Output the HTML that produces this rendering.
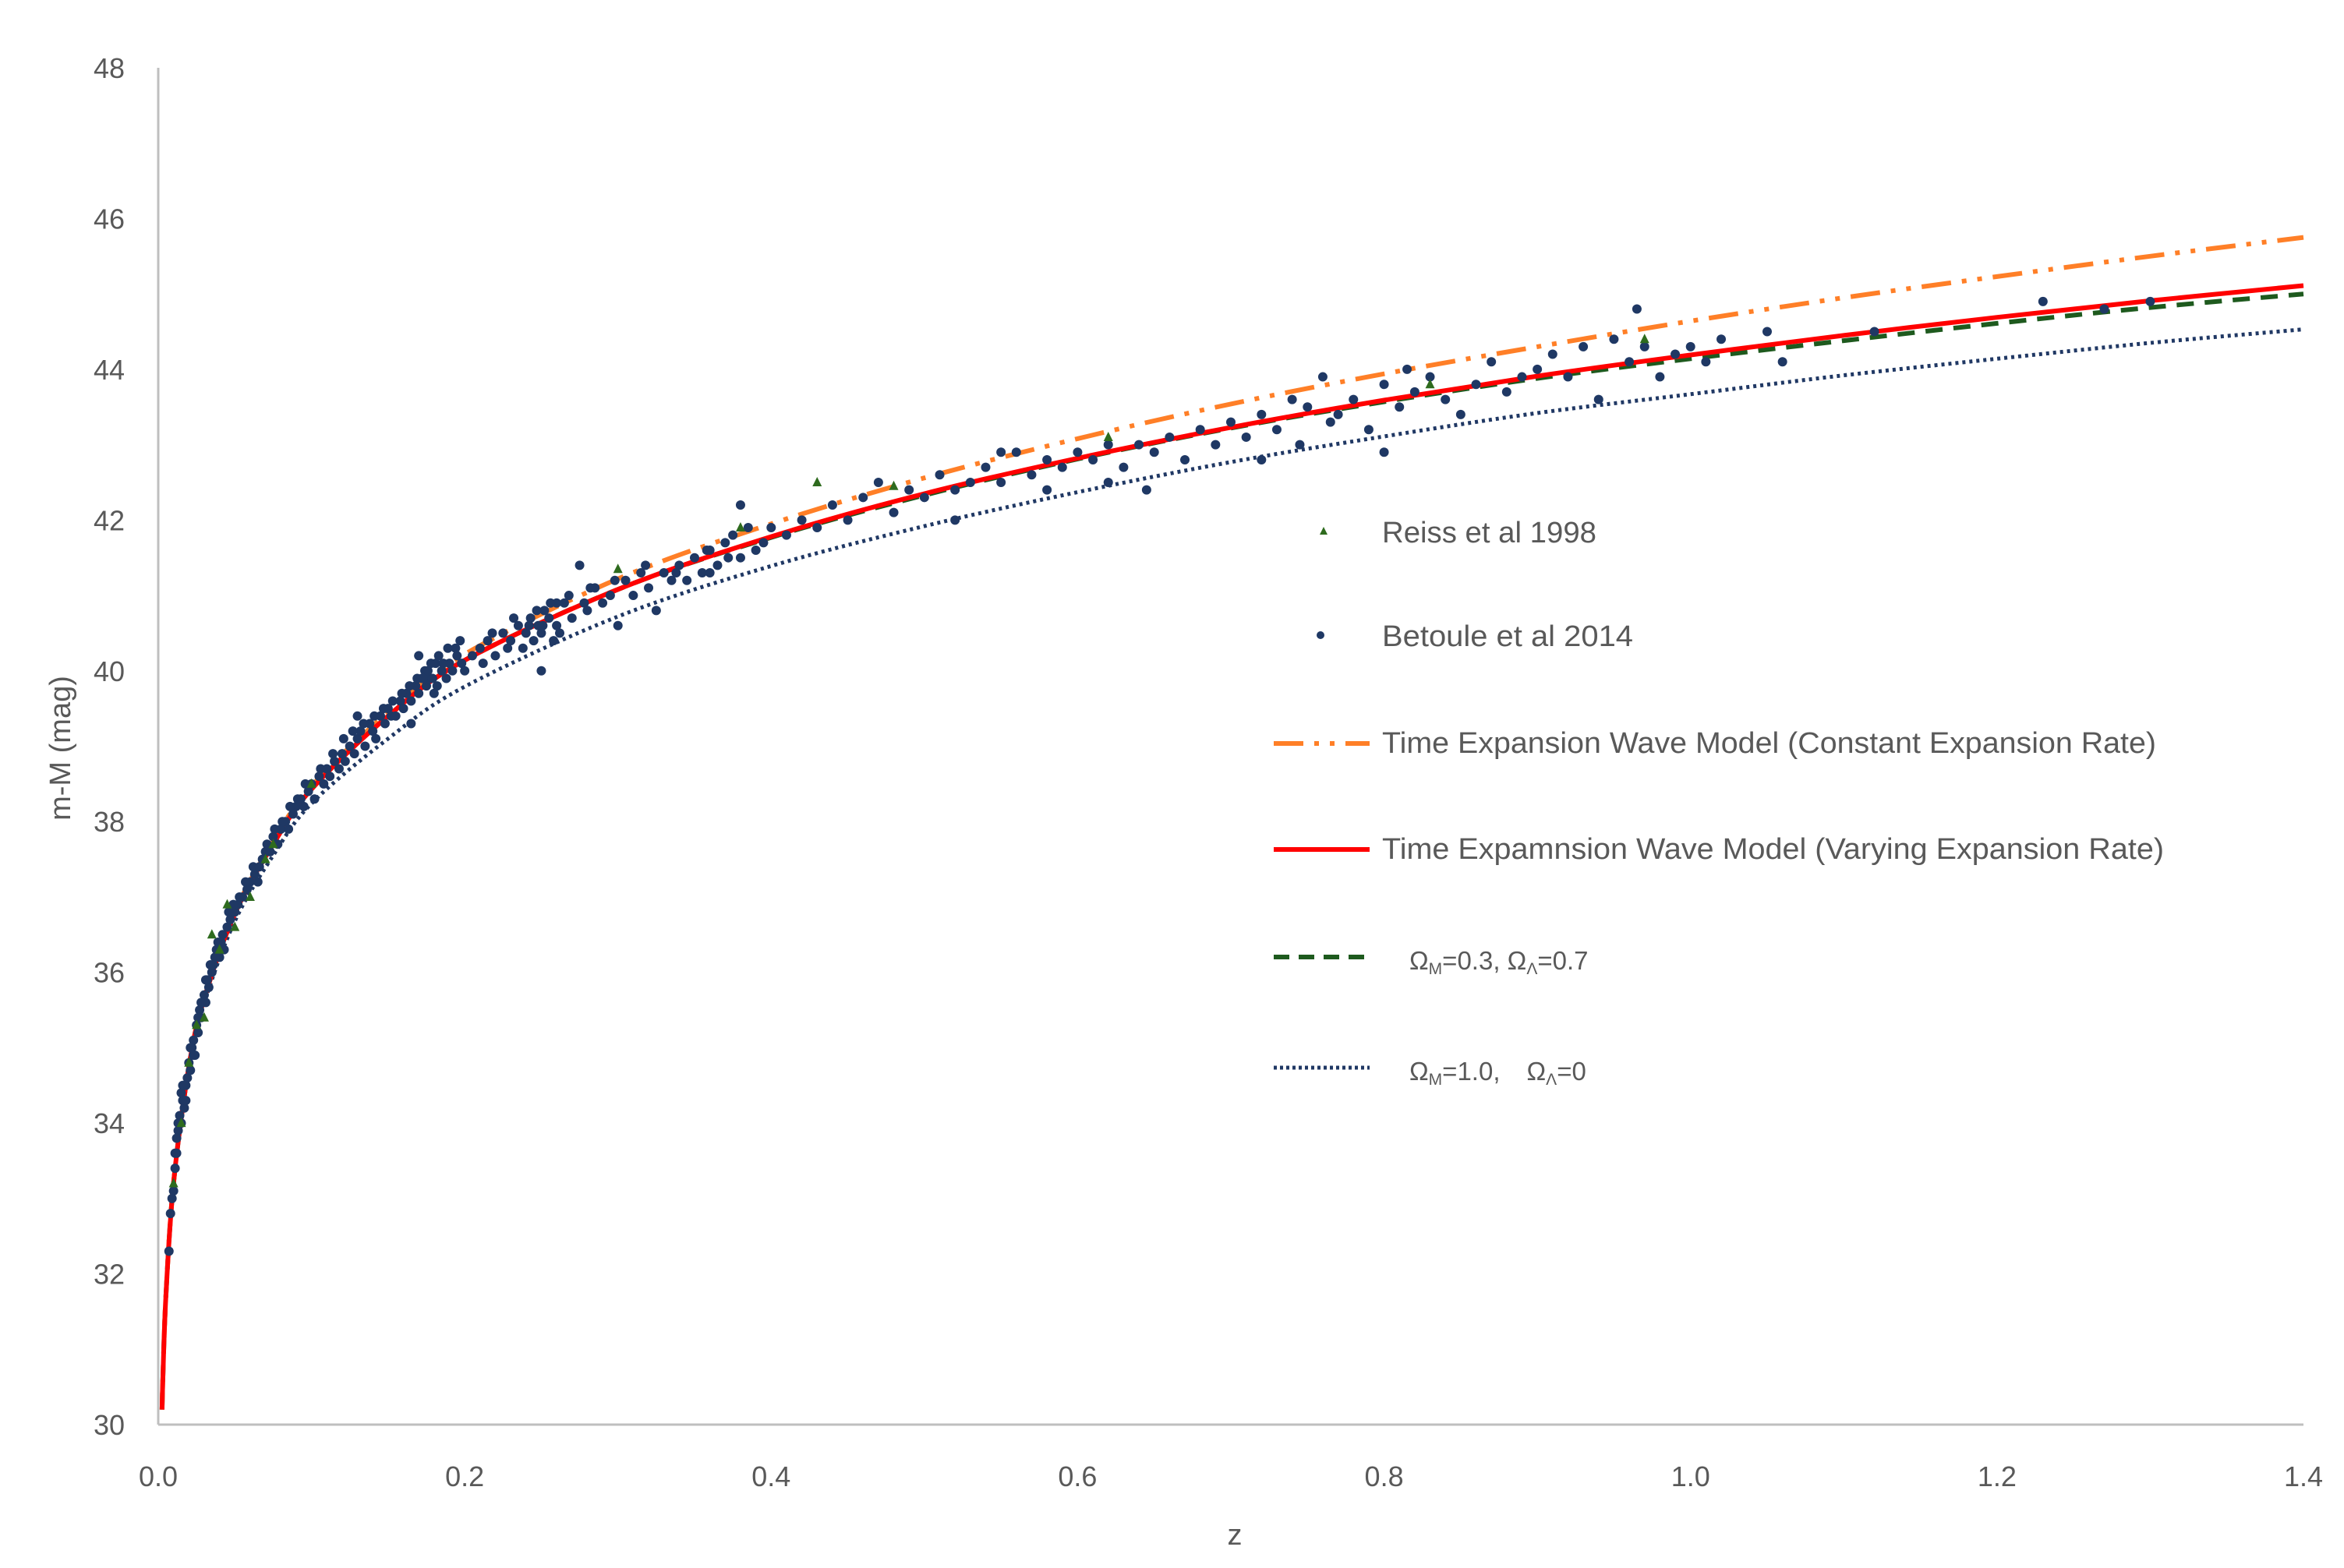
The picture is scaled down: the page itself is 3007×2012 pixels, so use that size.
<!DOCTYPE html>
<html><head><meta charset="utf-8"><style>
html,body{margin:0;padding:0;background:#fff}
svg{display:block;font-family:"Liberation Sans",sans-serif}
</style></head><body>
<svg id="chart" width="3007" height="2012" viewBox="0 0 3007 2012" xmlns="http://www.w3.org/2000/svg">
<rect width="3007" height="2012" fill="#fff"/>
<g id="axes"></g><g id="curves"></g><g id="points"></g><g id="legend"></g>
</svg>
<script>
const xTicks=[0.0,0.2,0.4,0.6,0.8,1.0,1.2,1.4];
const xTickLabels=["0.0","0.2","0.4","0.6","0.8","1.0","1.2","1.4"];
const yTicks=[30,32,34,36,38,40,42,44,46,48];
const modelZ=[0.0025,0.003,0.005,0.01,0.02,0.03,0.05,0.075,0.1,0.15,0.2,0.3,0.4,0.5,0.6,0.7,0.8,0.9,1.0,1.1,1.2,1.3,1.4];
const constRate=[30.2,30.6,31.7,33.21,34.75,35.66,36.8,37.74,38.47,39.45,40.22,41.22,41.95,42.56,43.08,43.54,43.94,44.3,44.64,44.95,45.23,45.5,45.75];
const varyRate=[30.2,30.6,31.7,33.21,34.75,35.65,36.78,37.7,38.43,39.4,40.14,41.08,41.78,42.35,42.82,43.23,43.59,43.91,44.19,44.45,44.69,44.91,45.11];
const lcdm=[30.2,30.6,31.7,33.21,34.75,35.65,36.78,37.7,38.43,39.4,40.14,41.08,41.77,42.33,42.81,43.22,43.57,43.88,44.14,44.38,44.61,44.82,45.0];
const eds=[30.2,30.6,31.7,33.2,34.71,35.59,36.68,37.55,38.24,39.1,39.79,40.72,41.39,41.92,42.37,42.77,43.11,43.42,43.67,43.92,44.14,44.35,44.53];
const betZ=[0.010,0.011,0.012,0.013,0.014,0.015,0.016,0.017,0.018,0.019,0.020,0.021,0.022,0.023,0.024,0.025,0.026,0.027,0.028,0.029,0.030,0.031,0.032,0.033,0.035,0.036,0.038,0.040,0.042,0.045,0.047,0.050,0.052,0.055,0.058,0.060,0.063,0.065,0.068,0.070,0.073,0.075,0.078,0.080,0.083,0.085,0.088,0.090,0.093,0.095,0.098,0.100,0.012,0.015,0.009,0.008,0.007,
0.011,0.013,0.016,0.018,0.021,0.023,0.026,0.028,0.031,0.034,0.037,0.039,0.041,0.043,0.046,0.049,0.053,0.057,0.062,0.066,0.071,0.076,0.081,0.086,0.091,0.096,
0.102,0.105,0.108,0.11,0.112,0.115,0.118,0.12,0.122,0.125,0.128,0.13,0.132,0.135,0.138,0.14,0.142,0.145,0.148,0.15,0.152,0.155,0.158,0.16,0.162,0.165,0.168,0.17,0.172,0.174,0.175,0.177,0.178,0.18,0.182,0.185,0.188,0.19,0.192,0.195,0.198,0.2,0.13,0.165,0.17,
0.106,0.114,0.121,0.127,0.134,0.141,0.147,0.153,0.159,0.164,0.169,0.173,0.176,0.179,0.181,0.183,0.186,0.189,0.194,0.197,
0.205,0.21,0.212,0.215,0.22,0.225,0.228,0.23,0.235,0.238,0.24,0.243,0.245,0.248,0.25,0.252,0.255,0.258,0.26,0.265,0.27,0.275,0.278,0.28,0.285,0.29,0.295,0.3,0.305,0.31,0.315,0.32,0.325,0.33,0.335,0.34,0.345,0.35,0.355,0.36,0.365,0.37,0.375,0.38,0.385,0.39,0.395,0.4,0.38,0.36,0.25,0.26,
0.218,0.232,0.242,0.247,0.251,0.256,0.262,0.268,0.282,0.298,0.318,0.338,0.358,0.372,
0.41,0.42,0.43,0.44,0.45,0.46,0.47,0.48,0.49,0.5,0.51,0.52,0.53,0.54,0.55,0.56,0.57,0.58,0.59,0.6,0.61,0.62,0.63,0.64,0.645,0.65,0.66,0.67,0.68,0.69,0.7,0.52,0.58,0.62,0.55,
0.71,0.72,0.73,0.74,0.745,0.75,0.76,0.765,0.77,0.78,0.79,0.8,0.81,0.815,0.82,0.83,0.84,0.85,0.86,0.87,0.88,0.89,0.9,0.91,0.92,0.93,0.94,0.95,0.96,0.965,0.97,0.98,0.99,1.0,1.01,1.02,0.8,0.72,
1.05,1.06,1.12,1.23,1.27,1.3];
const betMu=[33.1,33.4,33.6,33.9,34.1,34.0,34.3,34.2,34.5,34.6,34.8,34.7,35.0,35.1,34.9,35.3,35.2,35.5,35.4,35.6,35.7,35.6,35.9,35.8,36.0,36.1,36.3,36.2,36.5,36.6,36.7,36.8,36.9,37.0,37.1,37.2,37.3,37.2,37.5,37.6,37.6,37.8,37.7,37.9,38.0,37.9,38.1,38.2,38.3,38.2,38.4,38.5,33.8,34.4,33.0,32.8,32.3,
33.6,34.0,34.5,34.3,35.0,34.9,35.4,35.6,35.9,36.1,36.2,36.4,36.4,36.3,36.8,36.9,37.0,37.2,37.4,37.4,37.7,37.9,38.0,38.2,38.3,38.5,
38.3,38.6,38.5,38.7,38.6,38.8,38.7,38.9,38.8,39.0,38.9,39.1,39.2,39.0,39.3,39.2,39.1,39.4,39.3,39.5,39.4,39.4,39.6,39.5,39.7,39.6,39.8,39.7,39.9,40.0,39.8,39.9,40.1,39.7,39.8,40.0,39.9,40.1,40.0,40.2,40.1,40.0,39.4,39.3,40.2,
38.7,38.9,39.1,39.2,39.3,39.4,39.5,39.6,39.7,39.8,39.9,39.9,40.0,39.9,40.1,40.2,40.1,40.3,40.3,40.4,
40.2,40.3,40.1,40.4,40.2,40.5,40.3,40.4,40.6,40.3,40.5,40.7,40.4,40.6,40.5,40.8,40.7,40.4,40.6,40.9,40.7,41.4,40.9,40.8,41.1,40.9,41.0,40.6,41.2,41.0,41.3,41.1,40.8,41.3,41.2,41.4,41.2,41.5,41.3,41.6,41.4,41.7,41.8,41.5,41.9,41.6,41.7,41.9,42.2,41.3,40.0,40.9,
40.5,40.7,40.6,40.8,40.6,40.9,40.5,41.0,41.1,41.2,41.4,41.3,41.6,41.5,
41.8,42.0,41.9,42.2,42.0,42.3,42.5,42.1,42.4,42.3,42.6,42.4,42.5,42.7,42.5,42.9,42.6,42.8,42.7,42.9,42.8,43.0,42.7,43.0,42.4,42.9,43.1,42.8,43.2,43.0,43.3,42.0,42.4,42.5,42.9,
43.1,43.4,43.2,43.6,43.0,43.5,43.9,43.3,43.4,43.6,43.2,43.8,43.5,44.0,43.7,43.9,43.6,43.4,43.8,44.1,43.7,43.9,44.0,44.2,43.9,44.3,43.6,44.4,44.1,44.8,44.3,43.9,44.2,44.3,44.1,44.4,42.9,42.8,
44.5,44.1,44.5,44.9,44.8,44.9];
const reissZ=[0.01,0.015,0.02,0.025,0.03,0.035,0.04,0.045,0.05,0.06,0.07,0.075,0.1,0.3,0.38,0.43,0.48,0.62,0.83,0.97];
const reissMu=[33.2,34.0,34.8,35.3,35.4,36.5,36.3,36.9,36.6,37.0,37.5,37.7,38.5,41.35,41.9,42.5,42.45,43.1,43.8,44.4];

const NS='http://www.w3.org/2000/svg';
const X0=203,X1=2955,Y0=1828,Y1=87;
const sx=z=>X0+(z-0)/(1.4-0)*(X1-X0);
const sy=m=>Y0-(m-30)/(48-30)*(Y0-Y1);
function mk(tag,attrs,parent,txt){const e=document.createElementNS(NS,tag);for(const k in attrs)e.setAttribute(k,attrs[k]);if(txt!==undefined)e.textContent=txt;parent.appendChild(e);return e;}
const axes=document.getElementById('axes'),curves=document.getElementById('curves'),pts=document.getElementById('points'),leg=document.getElementById('legend');

let e=mk('line',{x1:X0,y1:Y0,x2:X1,y2:Y0,stroke:'#bfbfbf','stroke-width':3},axes);


e=mk('line',{x1:X0,y1:Y0,x2:X0,y2:Y1,stroke:'#bfbfbf','stroke-width':3},axes);


xTicks.forEach((t,i)=>{const el=mk('text',{x:sx(t),y:1907,'font-size':36,fill:'#595959','text-anchor':'middle'},axes,xTickLabels[i]);

});
yTicks.forEach(t=>{const el=mk('text',{x:160,y:sy(t)+13,'font-size':36,fill:'#595959','text-anchor':'end'},axes,String(t));

});
e=mk('text',{x:1584,y:1982,'font-size':38,fill:'#595959','text-anchor':'middle'},axes,'z');


e=mk('text',{x:0,y:0,'font-size':38,fill:'#595959','text-anchor':'middle',transform:'translate(90,960) rotate(-90)'},axes,'m-M (mag)');



const styles={
 eds:{stroke:'#203864',w:5,dash:'4 5'},
 lcdm:{stroke:'#1e5a1e',w:6,dash:'22 14'},
 vary:{stroke:'#ff0000',w:6,dash:''},
 cons:{stroke:'#ff7f27',w:6,dash:'38 14 6 14 6 14'}
};
function curve(vals,st,name){
 const P=modelZ.map((z,i)=>[sx(z),sy(vals[i])]);
 let d='M'+P[0][0].toFixed(1)+','+P[0][1].toFixed(1);
 for(let i=0;i<P.length-1;i++){
  const p0=P[Math.max(0,i-1)],p1=P[i],p2=P[i+1],p3=P[Math.min(P.length-1,i+2)];
  const c1=[p1[0]+(p2[0]-p0[0])/6,p1[1]+(p2[1]-p0[1])/6];
  const c2=[p2[0]-(p3[0]-p1[0])/6,p2[1]-(p3[1]-p1[1])/6];
  d+='C'+c1[0].toFixed(1)+','+c1[1].toFixed(1)+' '+c2[0].toFixed(1)+','+c2[1].toFixed(1)+' '+p2[0].toFixed(1)+','+p2[1].toFixed(1);
 }
 const p=mk('path',{d:d,fill:'none',stroke:st.stroke,'stroke-width':st.w,'stroke-dasharray':st.dash},curves);
 
 }
curve(eds,styles.eds,'omega-m1-curve');
curve(lcdm,styles.lcdm,'lcdm-curve');
curve(constRate,styles.cons,'constant-rate-curve');
curve(varyRate,styles.vary,'varying-rate-curve');

betZ.forEach((z,i)=>{const c=mk('circle',{cx:sx(z),cy:sy(betMu[i]),r:6,fill:'#1f3864'},pts);

});
reissZ.forEach((z,i)=>{const x=sx(z),y=sy(reissMu[i]);const t=mk('polygon',{points:`${x},${y-7} ${x-6},${y+5} ${x+6},${y+5}`,fill:'#2e6b1e'},pts);

});

const LX1=1634,LX2=1757,TX=1773;
let g=mk('polygon',{points:'1698,676 1693,686 1703,686',fill:'#2e6b1e'},leg);


g=mk('text',{x:TX,y:696,'font-size':38,fill:'#595959',textLength:275,lengthAdjust:'spacingAndGlyphs'},leg,'Reiss et al 1998');


g=mk('circle',{cx:1694,cy:815,r:5,fill:'#1f3864'},leg);


g=mk('text',{x:TX,y:829,'font-size':38,fill:'#595959',textLength:322,lengthAdjust:'spacingAndGlyphs'},leg,'Betoule et al 2014');


g=mk('line',{x1:LX1,y1:954,x2:LX2,y2:954,stroke:'#ff7f27','stroke-width':6,'stroke-dasharray':'38 14 6 14 6 14'},leg);


g=mk('text',{x:TX,y:966,'font-size':38,fill:'#595959',textLength:993,lengthAdjust:'spacingAndGlyphs'},leg,'Time Expansion Wave Model (Constant Expansion Rate)');


g=mk('line',{x1:LX1,y1:1090,x2:LX2,y2:1090,stroke:'#ff0000','stroke-width':6},leg);


g=mk('text',{x:TX,y:1102,'font-size':38,fill:'#595959',textLength:1003,lengthAdjust:'spacingAndGlyphs'},leg,'Time Expamnsion Wave Model (Varying Expansion Rate)');


g=mk('line',{x1:LX1,y1:1228,x2:LX2,y2:1228,stroke:'#1e5a1e','stroke-width':6,'stroke-dasharray':'20 12'},leg);


g=mk('text',{x:1808,y:1244,'font-size':33,fill:'#595959'},leg);
g.innerHTML='Ω<tspan font-size="21" dy="6">M</tspan><tspan dy="-6">=0.3, Ω</tspan><tspan font-size="21" dy="6">Λ</tspan><tspan dy="-6">=0.7</tspan>';


g=mk('line',{x1:LX1,y1:1370,x2:LX2,y2:1370,stroke:'#203864','stroke-width':5,'stroke-dasharray':'4 4'},leg);


g=mk('text',{x:1808,y:1386,'font-size':33,fill:'#595959'},leg);
g.innerHTML='Ω<tspan font-size="21" dy="6">M</tspan><tspan dy="-6">=1.0,</tspan><tspan dx="34">Ω</tspan><tspan font-size="21" dy="6">Λ</tspan><tspan dy="-6">=0</tspan>';


</script>
</body></html>
